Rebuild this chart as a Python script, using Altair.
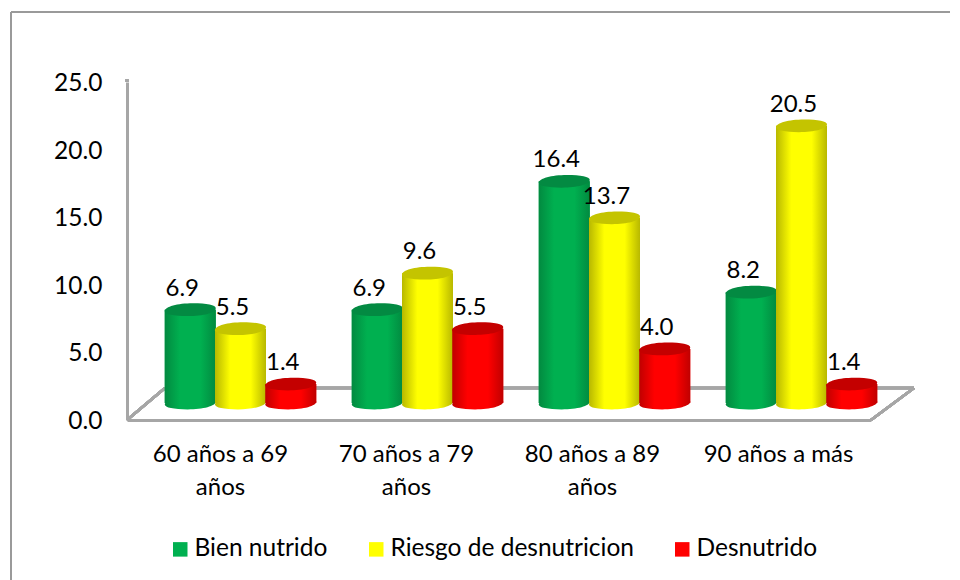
import altair as alt
import pandas as pd

categories = ["60 años a 69 años", "70 años a 79 años", "80 años a 89 años", "90 años a más"]
series = ["Bien nutrido", "Riesgo de desnutricion", "Desnutrido"]
bien = [6.9, 6.9, 16.4, 8.2]
riesgo = [5.5, 9.6, 13.7, 20.5]
desnutrido = [1.4, 5.5, 4.0, 1.4]
flat = ["#00b050", "#ffff00", "#ff0000"]
edge = ["#028a40", "#b8b800", "#c00000"]
cap = ["#038a42", "#c4c400", "#c40000"]

rows = []
for s, vals in zip(series, [bien, riesgo, desnutrido]):
    for c, v in zip(categories, vals):
        rows.append({"cat": c, "serie": s, "value": v})
df = pd.DataFrame(rows)

FONT = "Lato"
W, H = 744, 338
GREY = "#a6a6a6"
ELLIPSE = "M-1,0.06 C-1,-0.12 -0.5,-0.25 0.1,-0.25 C0.65,-0.25 1,-0.18 1,-0.06 C1,0.12 0.5,0.25 -0.1,0.25 C-0.65,0.25 -1,0.18 -1,0.06 Z"

X = alt.X("cat:N", sort=categories, scale=alt.Scale(domain=categories, range=[20, 768], paddingInner=0.194, paddingOuter=0.097), axis=None, title=None)
XO = alt.XOffset("serie:N", sort=series, scale=alt.Scale(domain=series))
YS = alt.Scale(domain=[0, 25], range=[H - 17, -17], nice=False, zero=True)
Y = alt.Y("value:Q", scale=YS, axis=None, title=None)

def grad(e, c):
    return alt.Gradient(gradient="linear", x1=0, x2=1, y1=0, y2=0, stops=[
        alt.GradientStop(color=e, offset=0), alt.GradientStop(color=c, offset=0.3),
        alt.GradientStop(color=c, offset=0.7), alt.GradientStop(color=e, offset=1)])

base = alt.Chart(df).encode(x=X, xOffset=XO, y=Y)

axes = alt.Chart(df).mark_point(opacity=0).encode(
    x=alt.X("cat:N", sort=categories, title=None, scale=alt.Scale(domain=categories),
            axis=alt.Axis(domainColor=GREY, domainWidth=3, ticks=False, labelAngle=0, labelFont=FONT, labelFontSize=24,
                          labelColor="#000000", labelPadding=22, labelLineHeight=33, labelLimit=0,
                          labelExpr="length(datum.label) > 14 ? [slice(datum.label, 0, 12), slice(datum.label, 13)] : datum.label")),
    y=alt.Y("value:Q", title=None, scale=alt.Scale(domain=[0, 25], nice=False),
            axis=alt.Axis(values=[0, 5, 10, 15, 20, 25], format=".1f", grid=False, domainColor=GREY, domainWidth=3, ticks=False,
                          labelFont=FONT, labelFontSize=24.5, labelColor="#000000", labelPadding=25, labelOffset=1.5)),
)

def rule(x, x2, y, y2, color=GREY, w=2.5):
    return alt.Chart(df).mark_rule(color=color, strokeWidth=w).encode(
        x=alt.value(x), x2=alt.value(x2), y=alt.value(y), y2=alt.value(y2))

frame = [rule(-116, -116, -70, 510, "#9a9a9a", 2), rule(-116, 823, -70, -70, "#9a9a9a", 2)]
floor = [rule(0, 38, H, H - 32), rule(38, 787, H - 32, H - 32), rule(744, 787, H, H - 32), rule(0, 0, -3, 0)]

flat_bars = base.mark_bar(size=51).encode(
    color=alt.Color("serie:N", sort=series, scale=alt.Scale(domain=series, range=flat), title=None,
                    legend=alt.Legend(orient="none", legendX=41, legendY=455, direction="horizontal", columns=3,
                                      symbolType="square", symbolSize=210, symbolOpacity=1, labelFont=FONT, labelFontSize=24.5,
                                      labelColor="#000000", columnPadding=36, labelOffset=2, labelLimit=0)))

layers = [flat_bars]
for s, e, c, t in zip(series, edge, flat, cap):
    sub = base.transform_filter(alt.datum.serie == s)
    layers.append(alt.Chart(df).transform_filter(alt.datum.serie == s).transform_calculate(zero="0").mark_point(
        shape=ELLIPSE, filled=True, size=2601, opacity=1, fill=grad(e, c)).encode(
        x=X, xOffset=XO, y=alt.Y("zero:Q", scale=YS, axis=None, title=None)))
    layers.append(sub.mark_bar(size=51, fill=grad(e, c)))
    layers.append(sub.mark_point(shape=ELLIPSE, filled=True, size=2601, opacity=1, fill=t))
labels = base.mark_text(font=FONT, fontSize=24, color="#000000", dx=-8, dy=-21).encode(text=alt.Text("value:Q", format=".1f"))
layers.append(labels)

bars = alt.layer(*layers)
chart = alt.layer(*frame, *floor, axes, bars).resolve_scale(x="independent", y="independent").properties(
    width=W, height=H, padding={"left": 119, "top": 74, "right": 81, "bottom": 160},
    autosize=alt.AutoSizeParams(type="none"), background="#ffffff"
).configure_view(stroke=None)

chart.save("out.html", embed_options={"renderer": "svg", "actions": False})
